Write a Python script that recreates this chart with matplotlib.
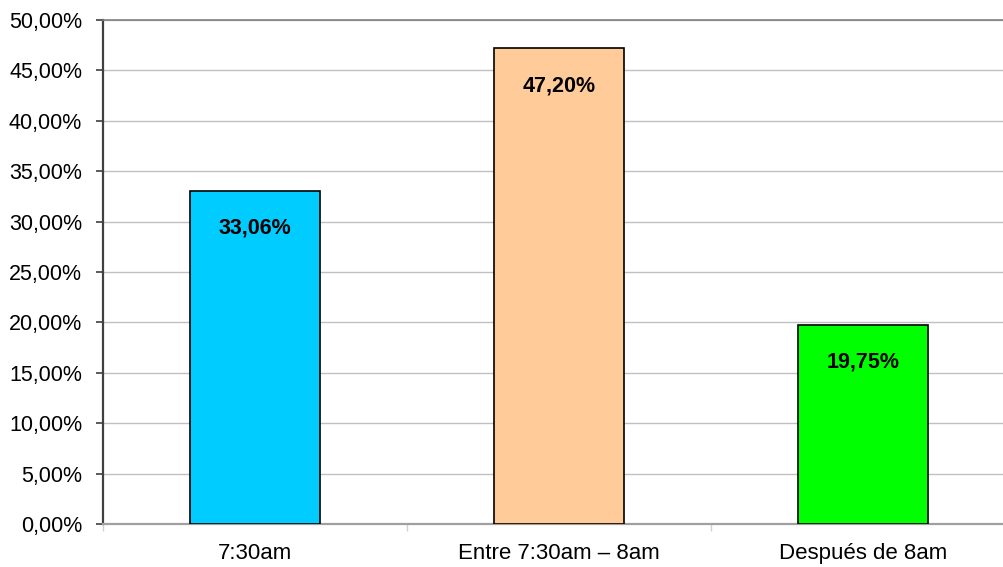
import matplotlib
matplotlib.use("Agg")
from matplotlib import pyplot as plt
from matplotlib.ticker import FuncFormatter, MultipleLocator

# Chart data
categories = ["7:30am", "Entre 7:30am \u2013 8am", "Despu\u00e9s de 8am"]
values = [33.06, 47.20, 19.75]
bar_colors = ["#00CCFF", "#FFCC99", "#00FF00"]

plt.rcParams["font.family"] = ["Liberation Sans", "DejaVu Sans"]


def pct_es(v, _pos=None):
    """Format a value the Spanish way: 33,06%."""
    return f"{v:.2f}%".replace(".", ",")


fig = plt.figure(figsize=(10.04, 5.67), dpi=100)
ax = fig.add_axes([103 / 1004, 1 - 524 / 567, (1004 - 103) / 1004, (524 - 20) / 567])

x = range(len(categories))
ax.bar(x, values, width=0.43, color=bar_colors, edgecolor="black", linewidth=1.2, zorder=3)

for xi, v in zip(x, values):
    ax.annotate(
        pct_es(v),
        xy=(xi, v),
        xytext=(0, -27),
        textcoords="offset points",
        ha="center",
        va="center",
        fontsize=15.5,
        fontweight="bold",
        zorder=4,
    )

ax.set_ylim(0, 50)
ax.set_xlim(-0.5, 2.5 - 11 / 304)
ax.yaxis.set_major_locator(MultipleLocator(5))
ax.yaxis.set_major_formatter(FuncFormatter(pct_es))
ax.grid(axis="y", color="#c0c0c0", linewidth=1, zorder=0)

ax.set_xticks(list(x))
ax.set_xticklabels(categories)
ax.set_xticks([-0.5, 0.5, 1.5], minor=True)
ax.tick_params(axis="x", which="major", length=0, pad=14, labelsize=16)
ax.tick_params(axis="x", which="minor", length=5, color="#d0d0d0", width=1)
ax.tick_params(axis="y", length=5, color="#404040", width=1.2, labelsize=15.5, pad=10)

ax.spines["left"].set_color("#404040")
ax.spines["left"].set_linewidth(1.6)
ax.spines["bottom"].set_color("#a0a0a0")
ax.spines["bottom"].set_linewidth(1.6)
ax.spines["top"].set_color("#808080")
ax.spines["top"].set_linewidth(1.2)
ax.spines["right"].set_visible(False)

fig.savefig("out.png")
